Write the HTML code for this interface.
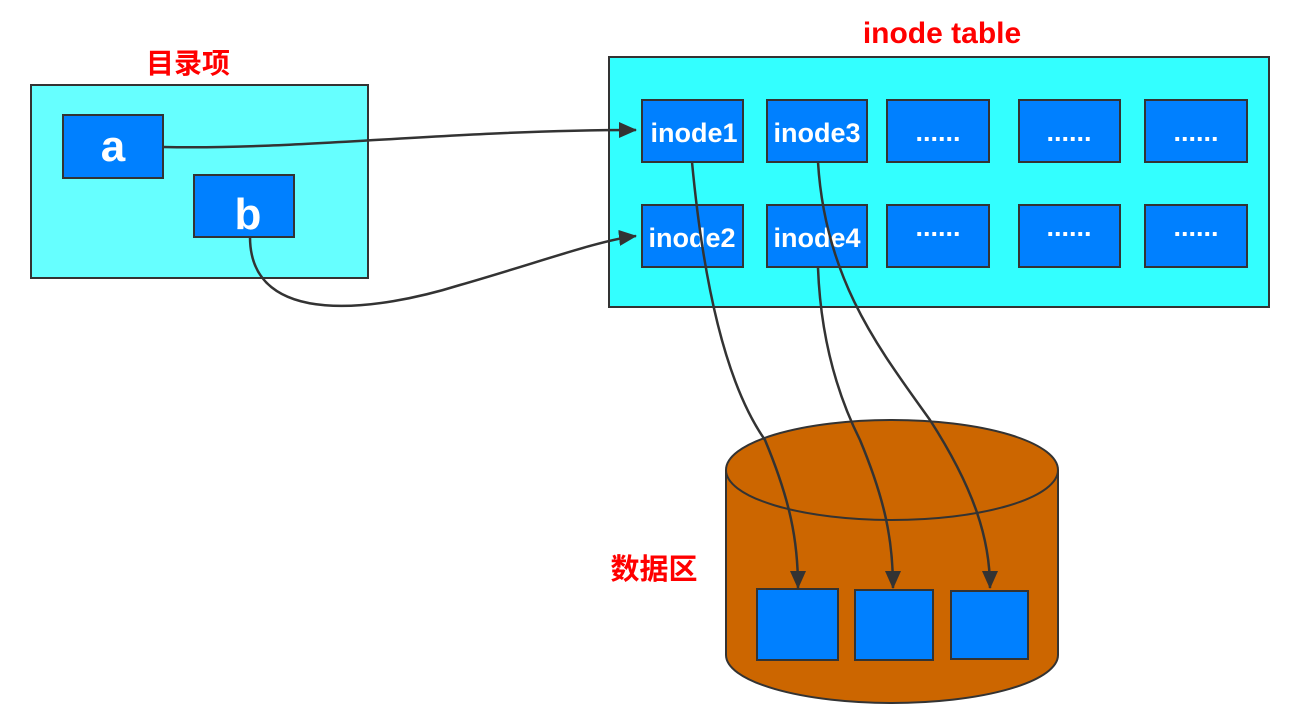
<!DOCTYPE html>
<html><head><meta charset="utf-8"><style>
html,body{margin:0;padding:0;background:#fff;}
svg{display:block;}
text{font-family:"Liberation Sans","Noto Sans CJK SC",sans-serif;font-weight:bold;}
</style></head><body>
<svg width="1314" height="719" viewBox="0 0 1314 719" xmlns="http://www.w3.org/2000/svg">
<defs>
<marker id="ah2" markerWidth="18" markerHeight="16" refX="17" refY="8" orient="auto" markerUnits="userSpaceOnUse" viewBox="0 0 18 16">
<path d="M0,0 L18,8 L0,16 z" fill="#333"/>
</marker>
</defs>
<text x="188" y="73" font-size="28" fill="#ff0000" text-anchor="middle">目录项</text>
<text x="942" y="43" font-size="30" fill="#ff0000" text-anchor="middle">inode table</text>
<text x="654" y="579" font-size="29" fill="#ff0000" text-anchor="middle">数据区</text>

<rect x="31" y="85" width="337" height="193" fill="#66ffff" stroke="#333" stroke-width="2"/>
<rect x="63" y="115" width="100" height="63" fill="#0080ff" stroke="#333" stroke-width="2"/>
<text x="113" y="161" font-size="44" fill="#fff" text-anchor="middle">a</text>
<rect x="194" y="175" width="100" height="62" fill="#0080ff" stroke="#333" stroke-width="2"/>
<text x="248" y="229" font-size="44" fill="#fff" text-anchor="middle">b</text>

<rect x="609" y="57" width="660" height="250" fill="#33ffff" stroke="#333" stroke-width="2"/>
<g fill="#0080ff" stroke="#333" stroke-width="2">
<rect x="642" y="100" width="101" height="62"/><rect x="767" y="100" width="100" height="62"/>
<rect x="887" y="100" width="102" height="62"/><rect x="1019" y="100" width="101" height="62"/>
<rect x="1145" y="100" width="102" height="62"/>
<rect x="642" y="205" width="101" height="62"/><rect x="767" y="205" width="100" height="62"/>
<rect x="887" y="205" width="102" height="62"/><rect x="1019" y="205" width="101" height="62"/>
<rect x="1145" y="205" width="102" height="62"/>
</g>
<g font-size="27" fill="#fff" text-anchor="middle">
<text x="694" y="142">inode1</text><text x="817" y="142">inode3</text>
<text x="692" y="247">inode2</text><text x="817" y="247">inode4</text>
<text x="938" y="141">......</text><text x="1069" y="141">......</text><text x="1196" y="141">......</text>
<text x="938" y="236">......</text><text x="1069" y="236">......</text><text x="1196" y="236">......</text>
</g>

<path d="M726,470 L726,655 A166,48 0 0 0 1058,655 L1058,470 A166,50 0 0 0 726,470 Z" fill="#cc6600" stroke="#333" stroke-width="2"/>
<path d="M726,470 A166,50 0 0 0 1058,470" fill="none" stroke="#333" stroke-width="2"/>
<g fill="#0080ff" stroke="#333" stroke-width="2">
<rect x="757" y="589" width="81" height="71"/>
<rect x="855" y="590" width="78" height="70"/>
<rect x="951" y="591" width="77" height="68"/>
</g>

<g fill="none" stroke="#333" stroke-width="2.5">
<path d="M163,147 C300,150 450,130 636,130" marker-end="url(#ah2)"/>
<path d="M250,237 C250,330 380,310 460,285 C540,262 600,240 636,236" marker-end="url(#ah2)"/>
<path d="M692,162 C705,300 730,390 765,440 C790,500 798,540 798,588" marker-end="url(#ah2)"/>
<path d="M818,268 C820,320 830,380 860,440 C885,500 893,540 893,588" marker-end="url(#ah2)"/>
<path d="M818,162 C825,280 880,350 930,420 C975,490 990,540 990,588" marker-end="url(#ah2)"/>
</g>
</svg>
</body></html>
